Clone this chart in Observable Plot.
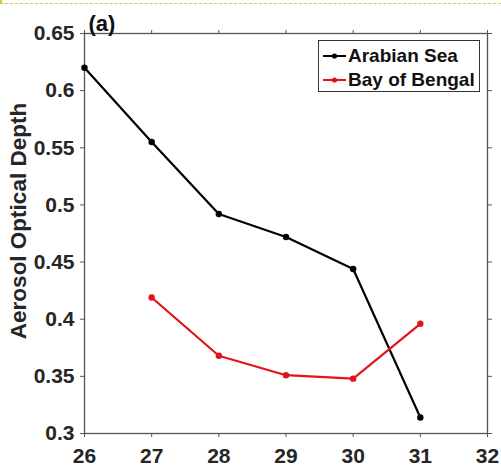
<!DOCTYPE html>
<html>
<head>
<meta charset="utf-8">
<script src="https://cdn.jsdelivr.net/npm/d3@7"></script>
<script src="https://cdn.jsdelivr.net/npm/@observablehq/plot@0.6"></script>
<style>
  html, body { margin: 0; padding: 0; background: #fff; }
  #wrap { position: relative; width: 501px; height: 474px; overflow: hidden; font-family: "Liberation Sans", Arial, sans-serif; }
  #topline { position: absolute; left: 0; top: 3px; width: 501px; border-top: 1px dashed #d8c84a; }
  #corner { position: absolute; left: 0; top: 0; width: 2px; height: 4px; background: #d8c84a; }
  #ylabel { position: absolute; left: 19px; top: 221px; transform: translate(-50%, -50%) rotate(-90deg); white-space: nowrap; font-weight: bold; font-size: 22.5px; line-height: 1; color: #262626; }
  #legend { position: absolute; left: 318px; top: 40px; width: 160px; height: 50px; border: 1px solid #333; background: #fff; font-weight: bold; font-size: 19px; color: #111; }
  .row { position: absolute; left: 3px; height: 24px; display: flex; align-items: center; white-space: nowrap; }
  .row svg { margin-right: 1px; }
</style>
</head>
<body>
<div id="wrap">
  <div id="chart"></div>
  <div id="topline"></div>
  <div id="corner"></div>
  <div id="ylabel"></div>
  <div id="legend"></div>
</div>
<script>
const xTicks = [26, 27, 28, 29, 30, 31, 32];
const yTicks = [0.3, 0.35, 0.4, 0.45, 0.5, 0.55, 0.6, 0.65];
const seriesNames = ["Arabian Sea", "Bay of Bengal"];
const seriesColors = ["#000000", "#e0141a"];
const arabianX = [26, 27, 28, 29, 30, 31];
const arabianAOD = [0.620, 0.555, 0.492, 0.472, 0.444, 0.314];
const bengalX = [27, 28, 29, 30, 31];
const bengalAOD = [0.419, 0.368, 0.351, 0.348, 0.396];
const yLabel = "Aerosol Optical Depth";
const panelTag = "(a)";

const data = [
  ...arabianX.map((x, i) => ({series: seriesNames[0], x, y: arabianAOD[i]})),
  ...bengalX.map((x, i) => ({series: seriesNames[1], x, y: bengalAOD[i]}))
];

const axisColor = "#555";
const chart = Plot.plot({
  width: 501,
  height: 474,
  marginLeft: 84,
  marginRight: 14,
  marginTop: 33,
  marginBottom: 41,
  style: {fontFamily: "'Liberation Sans', Arial, sans-serif", fontSize: "21px", fontWeight: "bold", color: "#262626", background: "#fff"},
  x: {domain: [26, 32]},
  y: {domain: [0.3, 0.65]},
  color: {domain: seriesNames, range: seriesColors},
  marks: [
    Plot.axisX({anchor: "bottom", ticks: xTicks, tickSize: 4, tickPadding: 11, tickFormat: d => String(d), label: null, stroke: axisColor}),
    Plot.axisX({anchor: "top", ticks: xTicks, tickSize: 4, tickFormat: () => "", label: null, stroke: axisColor}),
    Plot.axisY({anchor: "left", ticks: yTicks, tickSize: 4, tickPadding: 6, tickFormat: d => String(d), label: null, stroke: axisColor}),
    Plot.axisY({anchor: "right", ticks: yTicks, tickSize: 4, tickFormat: () => "", label: null, stroke: axisColor}),
    Plot.frame({stroke: axisColor, strokeWidth: 1.3}),
    Plot.line(data, {x: "x", y: "y", z: "series", stroke: "series", strokeWidth: 2.2}),
    Plot.dot(data, {x: "x", y: "y", fill: "series", r: 3.2}),
    Plot.text([panelTag], {text: d => d, frameAnchor: "top-left", textAnchor: "start", lineAnchor: "bottom", dx: 4, dy: -3, fontSize: 22, fontWeight: "bold", fill: "#111"})
  ]
});
document.getElementById("chart").appendChild(chart);
document.getElementById("ylabel").textContent = yLabel;

const legend = document.getElementById("legend");
seriesNames.forEach((name, i) => {
  const row = document.createElement("div");
  row.className = "row";
  row.style.top = (3 + i * 24) + "px";
  row.innerHTML = `<svg width="25" height="10"><line x1="1" y1="5" x2="24" y2="5" stroke="${seriesColors[i]}" stroke-width="2"/><circle cx="12.5" cy="5" r="2.6" fill="${seriesColors[i]}"/></svg><span>${name}</span>`;
  legend.appendChild(row);
});
</script>
</body>
</html>
